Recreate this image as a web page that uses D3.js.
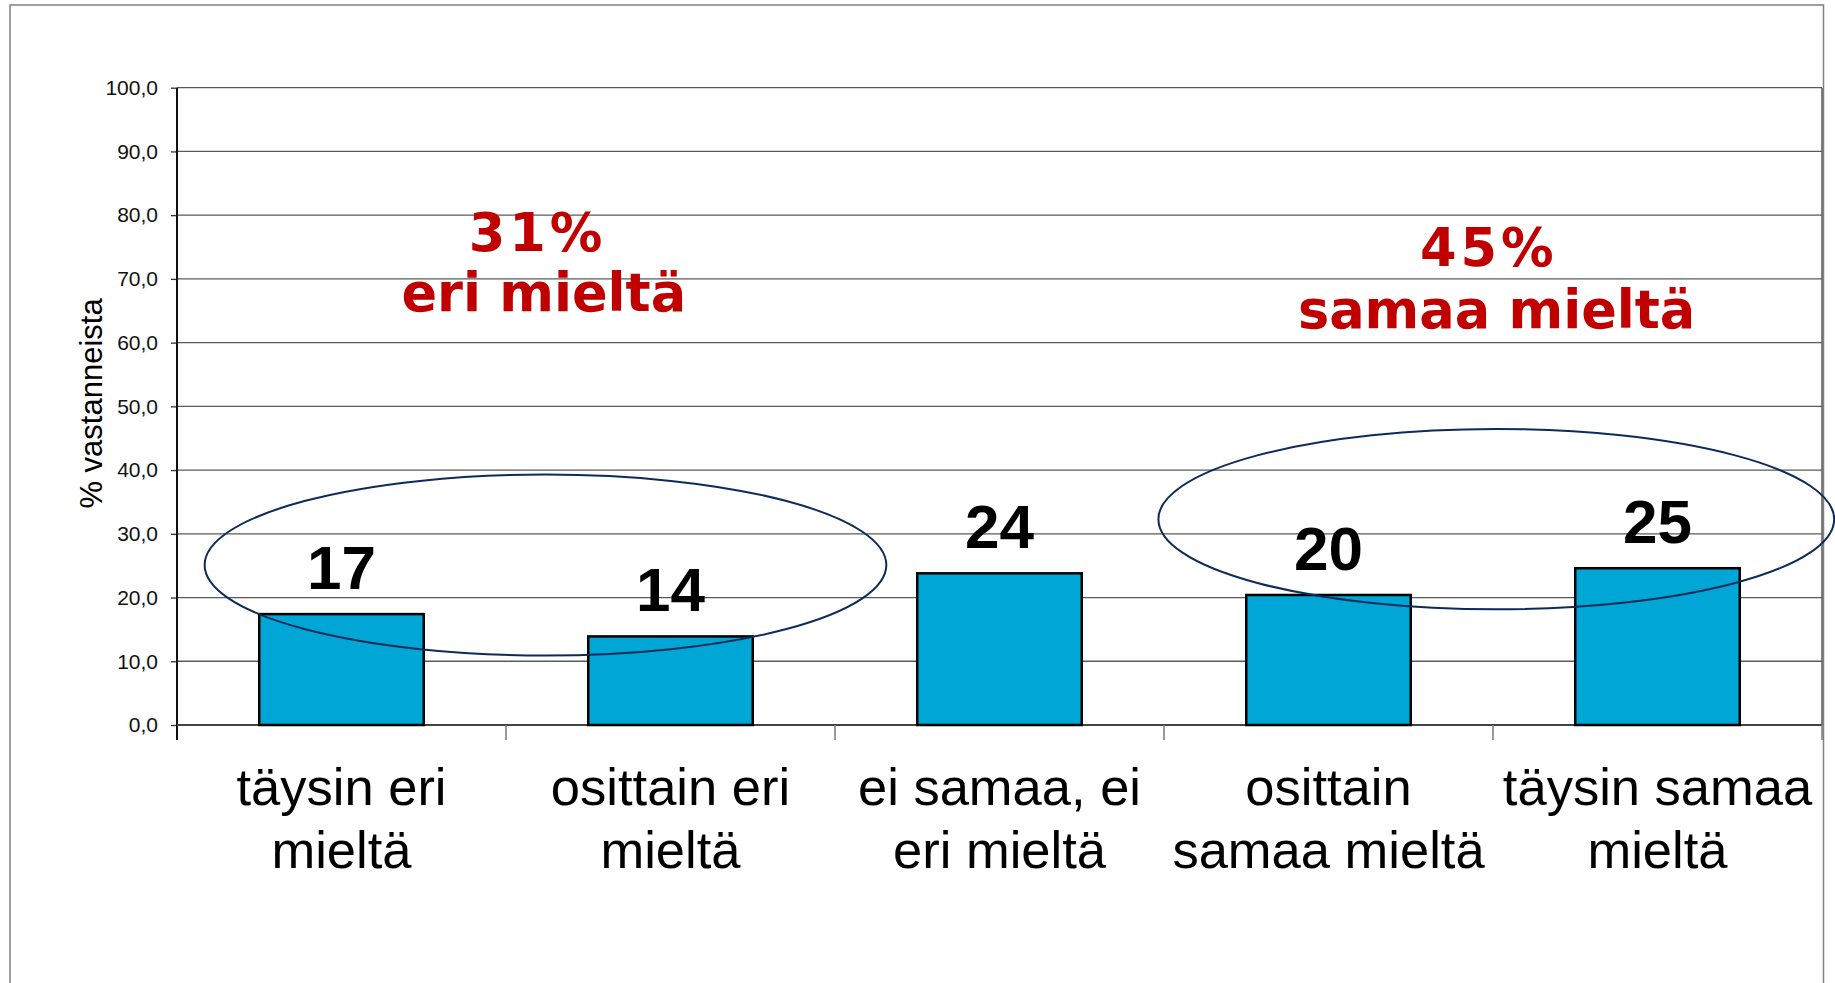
<!DOCTYPE html>
<html>
<head>
<meta charset="utf-8">
<script src="https://cdn.jsdelivr.net/npm/d3@7"></script>
<style>
  body { margin: 0; background: #fff; }
  svg { display: block; }
</style>
</head>
<body>
<script>
// screen width and height
var w = 1835;
var h = 983;

// chart data
var categories = ["täysin eri mieltä", "osittain eri mieltä", "ei samaa, ei eri mieltä", "osittain samaa mieltä", "täysin samaa mieltä"];
var categoryLines = [["täysin eri", "mieltä"], ["osittain eri", "mieltä"], ["ei samaa, ei", "eri mieltä"], ["osittain", "samaa mieltä"], ["täysin samaa", "mieltä"]];
var values = [17.4, 13.9, 23.8, 20.4, 24.6];
var yTicks = [0, 10, 20, 30, 40, 50, 60, 70, 80, 90, 100];
var yTitle = "% vastanneista";

// groups circled on the chart: band index span (centre, half width) and y value
var groupCentres = [0.62, 3.51];
var groupHalfWidths = [1.036, 1.027];
var groupCentreValues = [25.1, 32.3];
var groupHalfHeights = [14.2, 14.15];
var groupTexts = [["31%", "eri mieltä"], ["45%", "samaa mieltä"]];
var groupTextPos = [[1.096, 1.115], [3.987, 4.011]];   // band units from left, per line
var groupTextValues = [[74.4, 64.9], [72.1, 62.3]];

var margin = {top: 87.7, right: 13, bottom: 258, left: 177};

var svg = d3.select("body")
  .append("svg")
  .attr("width", w)
  .attr("height", h);

// outer frame
svg.append("rect")
  .attr("x", 10)
  .attr("y", 5)
  .attr("width", 1813.5)
  .attr("height", 1000)
  .attr("fill", "none")
  .attr("stroke", "#808080")
  .attr("stroke-width", 1.5);

var x = d3.scaleBand()
  .domain(categories)
  .range([margin.left, w - margin.right])
  .paddingInner(0.5)
  .paddingOuter(0.25);

var y = d3.scaleLinear()
  .domain([0, 100])
  .range([h - margin.bottom, margin.top]);

// position in band units (0 = left edge of plot)
var xPos = d3.scaleLinear()
  .domain([0, categories.length])
  .range([margin.left, w - margin.right]);

var fiLocale = d3.formatLocale({decimal: ",", thousands: " ", grouping: [3], currency: ["", " €"]});

// gridlines
svg.append("g")
  .selectAll("line")
  .data(yTicks.slice(1))
  .enter()
  .append("line")
  .attr("x1", margin.left)
  .attr("x2", w - margin.right)
  .attr("y1", function(d) { return y(d); })
  .attr("y2", function(d) { return y(d); })
  .attr("stroke", "#5a5a5a")
  .attr("stroke-width", 1.3);

// y axis
var yAxis = svg.append("g")
  .attr("transform", "translate(" + margin.left + ",0)")
  .call(d3.axisLeft(y)
    .tickValues(yTicks)
    .tickSize(6)
    .tickPadding(13)
    .tickFormat(fiLocale.format(".1f")));
yAxis.select(".domain").remove();
yAxis.selectAll(".tick line").attr("stroke", "#333").attr("stroke-width", 1.3);
yAxis.selectAll("text")
  .attr("font-family", "'Liberation Sans', Arial, sans-serif")
  .attr("font-size", "21px")
  .attr("fill", "#111");

svg.append("line")
  .attr("x1", margin.left)
  .attr("x2", margin.left)
  .attr("y1", margin.top)
  .attr("y2", y(0) + 15)
  .attr("stroke", "#111")
  .attr("stroke-width", 2);

// x axis line and ticks between categories
svg.append("line")
  .attr("x1", margin.left)
  .attr("x2", w - margin.right)
  .attr("y1", y(0))
  .attr("y2", y(0))
  .attr("stroke", "#444")
  .attr("stroke-width", 2);

svg.append("g")
  .selectAll("line")
  .data(d3.range(1, categories.length + 1))
  .enter()
  .append("line")
  .attr("x1", function(d) { return xPos(d); })
  .attr("x2", function(d) { return xPos(d); })
  .attr("y1", y(0))
  .attr("y2", y(0) + 15)
  .attr("stroke", "#777")
  .attr("stroke-width", 1.5);

// right edge of plot
svg.append("line")
  .attr("x1", w - margin.right)
  .attr("x2", w - margin.right)
  .attr("y1", margin.top)
  .attr("y2", y(0))
  .attr("stroke", "#555")
  .attr("stroke-width", 1.5);

// bars
svg.selectAll(".bar")
  .data(values)
  .enter()
  .append("rect")
  .attr("class", "bar")
  .attr("x", function(d, i) { return x(categories[i]); })
  .attr("y", function(d) { return y(d); })
  .attr("width", x.bandwidth())
  .attr("height", function(d) { return y(0) - y(d); })
  .attr("fill", "#00a6d6")
  .attr("stroke", "#000")
  .attr("stroke-width", 2.5);

// value labels
svg.selectAll(".value")
  .data(values)
  .enter()
  .append("text")
  .attr("class", "value")
  .attr("x", function(d, i) { return x(categories[i]) + x.bandwidth() / 2; })
  .attr("y", function(d) { return y(d) - 25; })
  .attr("text-anchor", "middle")
  .attr("font-family", "'Liberation Sans', Arial, sans-serif")
  .attr("font-weight", "bold")
  .attr("font-size", "62px")
  .attr("fill", "#000")
  .text(function(d) { return d3.format(".0f")(d); });

// category labels
var cat = svg.selectAll(".cat")
  .data(categoryLines)
  .enter()
  .append("text")
  .attr("class", "cat")
  .attr("text-anchor", "middle")
  .attr("font-family", "'Liberation Sans', Arial, sans-serif")
  .attr("font-size", "52.5px")
  .attr("fill", "#000");

cat.selectAll("tspan")
  .data(function(d, i) { return d.map(function(t) { return {t: t, i: i}; }); })
  .enter()
  .append("tspan")
  .attr("x", function(d) { return x(categories[d.i]) + x.bandwidth() / 2; })
  .attr("y", function(d, j) { return y(0) + 80 + j * 62.7; })
  .text(function(d) { return d.t; });

// y axis title
svg.append("text")
  .attr("transform", "translate(102," + 403.5 + ") rotate(-90)")
  .attr("text-anchor", "middle")
  .attr("font-family", "'Liberation Sans', Arial, sans-serif")
  .attr("font-size", "31px")
  .attr("fill", "#000")
  .text(yTitle);

// ellipses around the groups
svg.selectAll(".group")
  .data(groupCentres)
  .enter()
  .append("ellipse")
  .attr("class", "group")
  .attr("cx", function(d) { return xPos(d + 0.5); })
  .attr("cy", function(d, i) { return y(groupCentreValues[i]); })
  .attr("rx", function(d, i) { return xPos(groupHalfWidths[i]) - xPos(0); })
  .attr("ry", function(d, i) { return y(0) - y(groupHalfHeights[i]); })
  .attr("fill", "none")
  .attr("stroke", "#0d2b5a")
  .attr("stroke-width", 2);

// red group texts
groupTexts.forEach(function(lines, g) {
  svg.append("g")
    .selectAll("text")
    .data(lines)
    .enter()
    .append("text")
    .attr("x", function(d, j) { return xPos(groupTextPos[g][j]); })
    .attr("y", function(d, j) { return y(groupTextValues[g][j]); })
    .attr("text-anchor", "middle")
    .attr("font-family", "'DejaVu Sans', Verdana, sans-serif")
    .attr("font-weight", "bold")
    .attr("font-size", "52.5px")
    .attr("letter-spacing", function(d, j) { return j === 0 ? "4px" : "0px"; })
    .attr("fill", "#c00000")
    .text(function(d) { return d; });
});
</script>
</body>
</html>
